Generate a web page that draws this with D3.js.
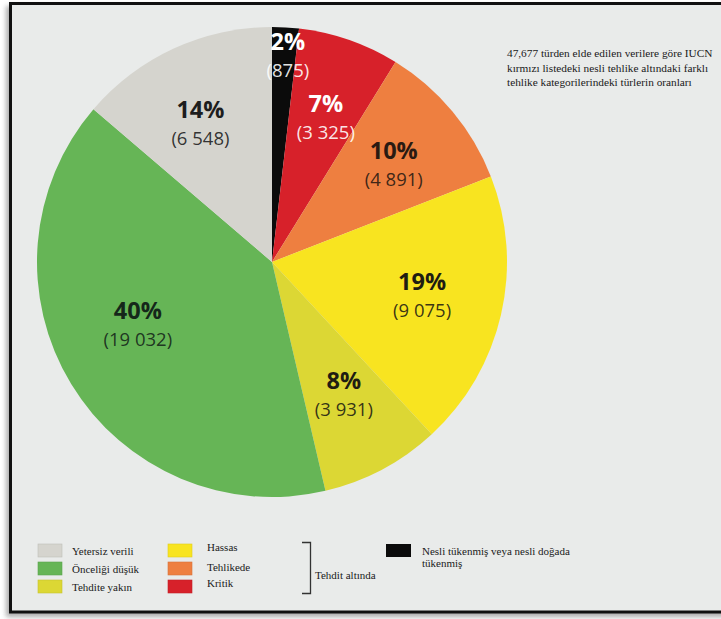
<!DOCTYPE html>
<html>
<head>
<meta charset="utf-8">
<script src="https://cdn.jsdelivr.net/npm/d3@7"></script>
<style>
  html, body { margin: 0; padding: 0; background: #ffffff; }
  svg { display: block; }
</style>
</head>
<body>
<svg id="chart" width="721" height="619"></svg>
<script>
// IUCN red list: number of species per threat category (47,677 assessed species)
const categories = ["Nesli tükenmiş", "Kritik", "Tehlikede", "Hassas", "Tehdite yakın", "Önceliği düşük", "Yetersiz verili"];
const speciesCounts = [875, 3325, 4891, 9075, 3931, 19032, 6548];
const percentLabels = ["2%", "7%", "10%", "19%", "8%", "40%", "14%"];
const countLabels = ["(875)", "(3 325)", "(4 891)", "(9 075)", "(3 931)", "(19 032)", "(6 548)"];
const sliceColors = ["#0b0b0b", "#d7212a", "#ee7f40", "#f8e420", "#dcd734", "#66b556", "#d5d4ce"];
const labelColors = ["#ffffff", "#ffffff", "#2a1a12", "#1f1d12", "#1f1d12", "#15271a", "#1d1d1d"];

const titleLines = [
  "47,677 türden elde edilen verilere göre IUCN",
  "kırmızı listedeki nesli tehlike altındaki farklı",
  "tehlike kategorilerindeki türlerin oranları"
];

// Legend entries (two columns under the bracket + the extinct entry)
const legendLeft = ["Yetersiz verili", "Önceliği düşük", "Tehdite yakın"];
const legendLeftColors = ["#d5d4ce", "#66b556", "#dcd734"];
const legendMid = ["Hassas", "Tehlikede", "Kritik"];
const legendMidColors = ["#f8e420", "#ee7f40", "#d7212a"];
const bracketLabel = "Tehdit altında";
const extinctLines = ["Nesli tükenmiş veya nesli doğada", "tükenmiş"];
const extinctColor = "#0b0b0b";

// Layout
const cx = 272, cy = 262, radius = 235;
const labelRadius = [206, 152, 152, 154, 151, 150, 152];
const labelNudge = [[4, 0], [4, 0], [5, 0], [0, 0], [1, 0], [-6, -15], [-8, 0]];

const svg = d3.select("#chart");

// Drop shadow behind the frame
const defs = svg.append("defs");
const shadow = defs.append("filter").attr("id", "frameShadow")
  .attr("x", "-10%").attr("y", "-10%").attr("width", "120%").attr("height", "120%");
shadow.append("feGaussianBlur").attr("stdDeviation", 2.5);

svg.append("rect")
  .attr("x", 6).attr("y", 6).attr("width", 730).attr("height", 611)
  .attr("fill", "#8a8a8a").attr("opacity", 0.7)
  .attr("filter", "url(#frameShadow)");

// Framed panel
svg.append("rect")
  .attr("x", 10.5).attr("y", 3.5).attr("width", 720).attr("height", 608.5)
  .attr("fill", "#e9ebea").attr("stroke", "#111111").attr("stroke-width", 3);

// Pie
const pie = d3.pie().sort(null).value(d => d)
  .startAngle(0).endAngle(2 * Math.PI);
const arcs = pie(speciesCounts);
const arc = d3.arc().innerRadius(0).outerRadius(radius);

const g = svg.append("g").attr("transform", `translate(${cx},${cy})`);

g.selectAll("path.slice")
  .data(arcs)
  .join("path")
  .attr("class", "slice")
  .attr("d", arc)
  .attr("fill", (d, i) => sliceColors[i]);

// Slice labels: percentage (bold) over species count
const labels = g.selectAll("g.label")
  .data(arcs)
  .join("g")
  .attr("class", "label")
  .attr("transform", (d, i) => {
    const r = labelRadius[i];
    const c = d3.arc().innerRadius(r).outerRadius(r).centroid(d);
    return `translate(${c[0] + labelNudge[i][0]},${c[1] + labelNudge[i][1]})`;
  });

labels.append("text")
  .attr("text-anchor", "middle")
  .attr("y", -6)
  .attr("font-family", "'Open Sans', 'Noto Sans', sans-serif")
  .attr("font-weight", 700)
  .attr("font-size", 23.5)
  .attr("fill", (d, i) => labelColors[i])
  .text((d, i) => percentLabels[i]);

labels.append("text")
  .attr("text-anchor", "middle")
  .attr("y", 21)
  .attr("font-family", "'Open Sans', 'Noto Sans', sans-serif")
  .attr("font-size", 18.5)
  .attr("fill", (d, i) => labelColors[i])
  .attr("fill-opacity", 0.9)
  .text((d, i) => countLabels[i]);

// Title block
const serif = "'Liberation Serif', 'DejaVu Serif', serif";
svg.append("g")
  .selectAll("text")
  .data(titleLines)
  .join("text")
  .attr("x", 507)
  .attr("y", (d, i) => 57 + i * 14.5)
  .attr("font-family", serif)
  .attr("font-size", 11.3)
  .attr("fill", "#1a1a1a")
  .text(d => d);

// Legend
const legend = svg.append("g").attr("font-family", serif).attr("font-size", 11).attr("fill", "#1a1a1a");
const rowY = [544, 562, 580];

function legendColumn(names, colors, sx, tx, ty) {
  legend.selectAll(null).data(names).join("rect")
    .attr("x", sx).attr("y", (d, i) => rowY[i])
    .attr("width", 24).attr("height", 13)
    .attr("fill", (d, i) => colors[i])
    .attr("stroke", (d, i) => d3.color(colors[i]).darker(0.3))
    .attr("stroke-width", 0.6);
  legend.selectAll(null).data(names).join("text")
    .attr("x", tx).attr("y", (d, i) => rowY[i] + ty[i])
    .text(d => d);
}
legendColumn(legendLeft, legendLeftColors, 38, 72, [11, 11, 11]);
legendColumn(legendMid, legendMidColors, 168, 207, [7, 9, 7]);

// Bracket grouping the threatened categories
svg.append("path")
  .attr("d", "M302,542.5 H310.5 V593.5 H302")
  .attr("fill", "none").attr("stroke", "#333").attr("stroke-width", 1.3);
legend.append("text").attr("x", 315).attr("y", 579).text(bracketLabel);

// Extinct entry
legend.append("rect")
  .attr("x", 386).attr("y", 544).attr("width", 25).attr("height", 13)
  .attr("fill", extinctColor);
legend.selectAll(null).data(extinctLines).join("text")
  .attr("x", 422).attr("y", (d, i) => 555 + i * 12)
  .text(d => d);
</script>
</body>
</html>
